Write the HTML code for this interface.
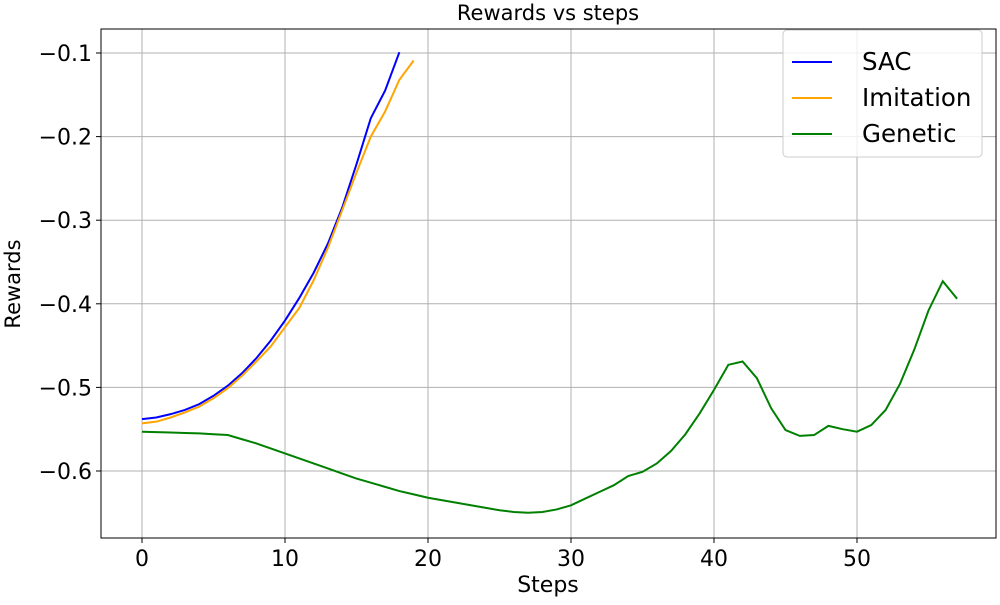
<!DOCTYPE html>
<html><head><meta charset="utf-8"><style>
body{margin:0;background:#fff;font-family:"Liberation Sans","DejaVu Sans",sans-serif;}
svg text{font-family:"DejaVu Sans","Liberation Sans",sans-serif;}
</style></head><body>
<svg id="chart" width="1000" height="600">
<g id="grid"></g>
<g id="series"></g>
<rect x="101" y="29" width="895" height="509" fill="none" stroke="#000" stroke-width="1"/>
<g id="ticks"></g>
<text x="548" y="20" font-size="21" text-anchor="middle">Rewards vs steps</text>
<text x="548" y="592" font-size="22" text-anchor="middle">Steps</text>
<text x="20" y="284" font-size="21" text-anchor="middle" transform="rotate(-90 20 284)">Rewards</text>
<g>
<rect x="783" y="30" width="199" height="127" rx="4" fill="#fff" fill-opacity="0.8" stroke="#ccc"/>
<line x1="792" y1="62" x2="832" y2="62" stroke="blue" stroke-width="2"/>
<text x="862" y="70" font-size="24.5">SAC</text>
<line x1="792" y1="98" x2="832" y2="98" stroke="orange" stroke-width="2"/>
<text x="862" y="106" font-size="24.5">Imitation</text>
<line x1="792" y1="134" x2="832" y2="134" stroke="green" stroke-width="2"/>
<text x="862" y="142" font-size="24.5">Genetic</text>
</g>
</svg>
<script>
const sacValues=[-0.538,-0.536,-0.532,-0.527,-0.520,-0.510,-0.498,-0.483,-0.465,-0.444,-0.420,-0.393,-0.363,-0.328,-0.285,-0.233,-0.178,-0.145,-0.099];
const imitationValues=[-0.543,-0.541,-0.536,-0.530,-0.523,-0.513,-0.501,-0.486,-0.469,-0.451,-0.428,-0.405,-0.372,-0.333,-0.288,-0.243,-0.200,-0.170,-0.132,-0.109];
const geneticValues=[-0.553,-0.5535,-0.554,-0.5545,-0.555,-0.556,-0.557,-0.562,-0.567,-0.573,-0.579,-0.585,-0.591,-0.597,-0.603,-0.609,-0.614,-0.619,-0.624,-0.628,-0.632,-0.635,-0.638,-0.641,-0.644,-0.647,-0.649,-0.650,-0.649,-0.646,-0.641,-0.633,-0.625,-0.617,-0.606,-0.601,-0.591,-0.576,-0.556,-0.531,-0.503,-0.473,-0.469,-0.489,-0.525,-0.551,-0.558,-0.557,-0.546,-0.550,-0.553,-0.545,-0.527,-0.496,-0.455,-0.408,-0.373,-0.394];
const xTicks=[0,10,20,30,40,50];
const yTicks=[-0.6,-0.5,-0.4,-0.3,-0.2,-0.1];
const yTickLabels=["\u22120.6","\u22120.5","\u22120.4","\u22120.3","\u22120.2","\u22120.1"];
const NS="http://www.w3.org/2000/svg";
const X=v=>142+v*14.3;
const Y=v=>53+(-0.1-v)*836;
const grid=document.getElementById('grid'),ticks=document.getElementById('ticks'),ser=document.getElementById('series');
function mk(tag,attrs,parent){const e=document.createElementNS(NS,tag);for(const k in attrs)e.setAttribute(k,attrs[k]);parent.appendChild(e);return e;}
xTicks.forEach(t=>{
 const g=mk('line',{x1:X(t),x2:X(t),y1:29,y2:538,stroke:'#b0b0b0','stroke-width':1},grid);
 
 
 const tk=mk('line',{x1:X(t),x2:X(t),y1:538,y2:543,stroke:'#000'},ticks);
 
 
 const tx=mk('text',{x:X(t),y:566,'font-size':22,'text-anchor':'middle'},ticks);
 tx.textContent=t;
 
 
});
yTicks.forEach((t,i)=>{
 const g=mk('line',{x1:101,x2:996,y1:Y(t),y2:Y(t),stroke:'#b0b0b0','stroke-width':1},grid);
 
 
 const tk=mk('line',{x1:96,x2:101,y1:Y(t),y2:Y(t),stroke:'#000'},ticks);
 
 
 const tx=mk('text',{x:92,y:Y(t)+8,'font-size':22,'text-anchor':'end'},ticks);
 tx.textContent=yTickLabels[i];
 
 
});
function line(vals,color,name){
 const p=mk('polyline',{points:vals.map((v,i)=>X(i)+','+Y(v)).join(' '),fill:'none',stroke:color,'stroke-width':2},ser);
 
 
}
line(sacValues,'blue','sac-line');
line(imitationValues,'orange','imitation-line');
line(geneticValues,'green','genetic-line');
</script>
</body></html>
